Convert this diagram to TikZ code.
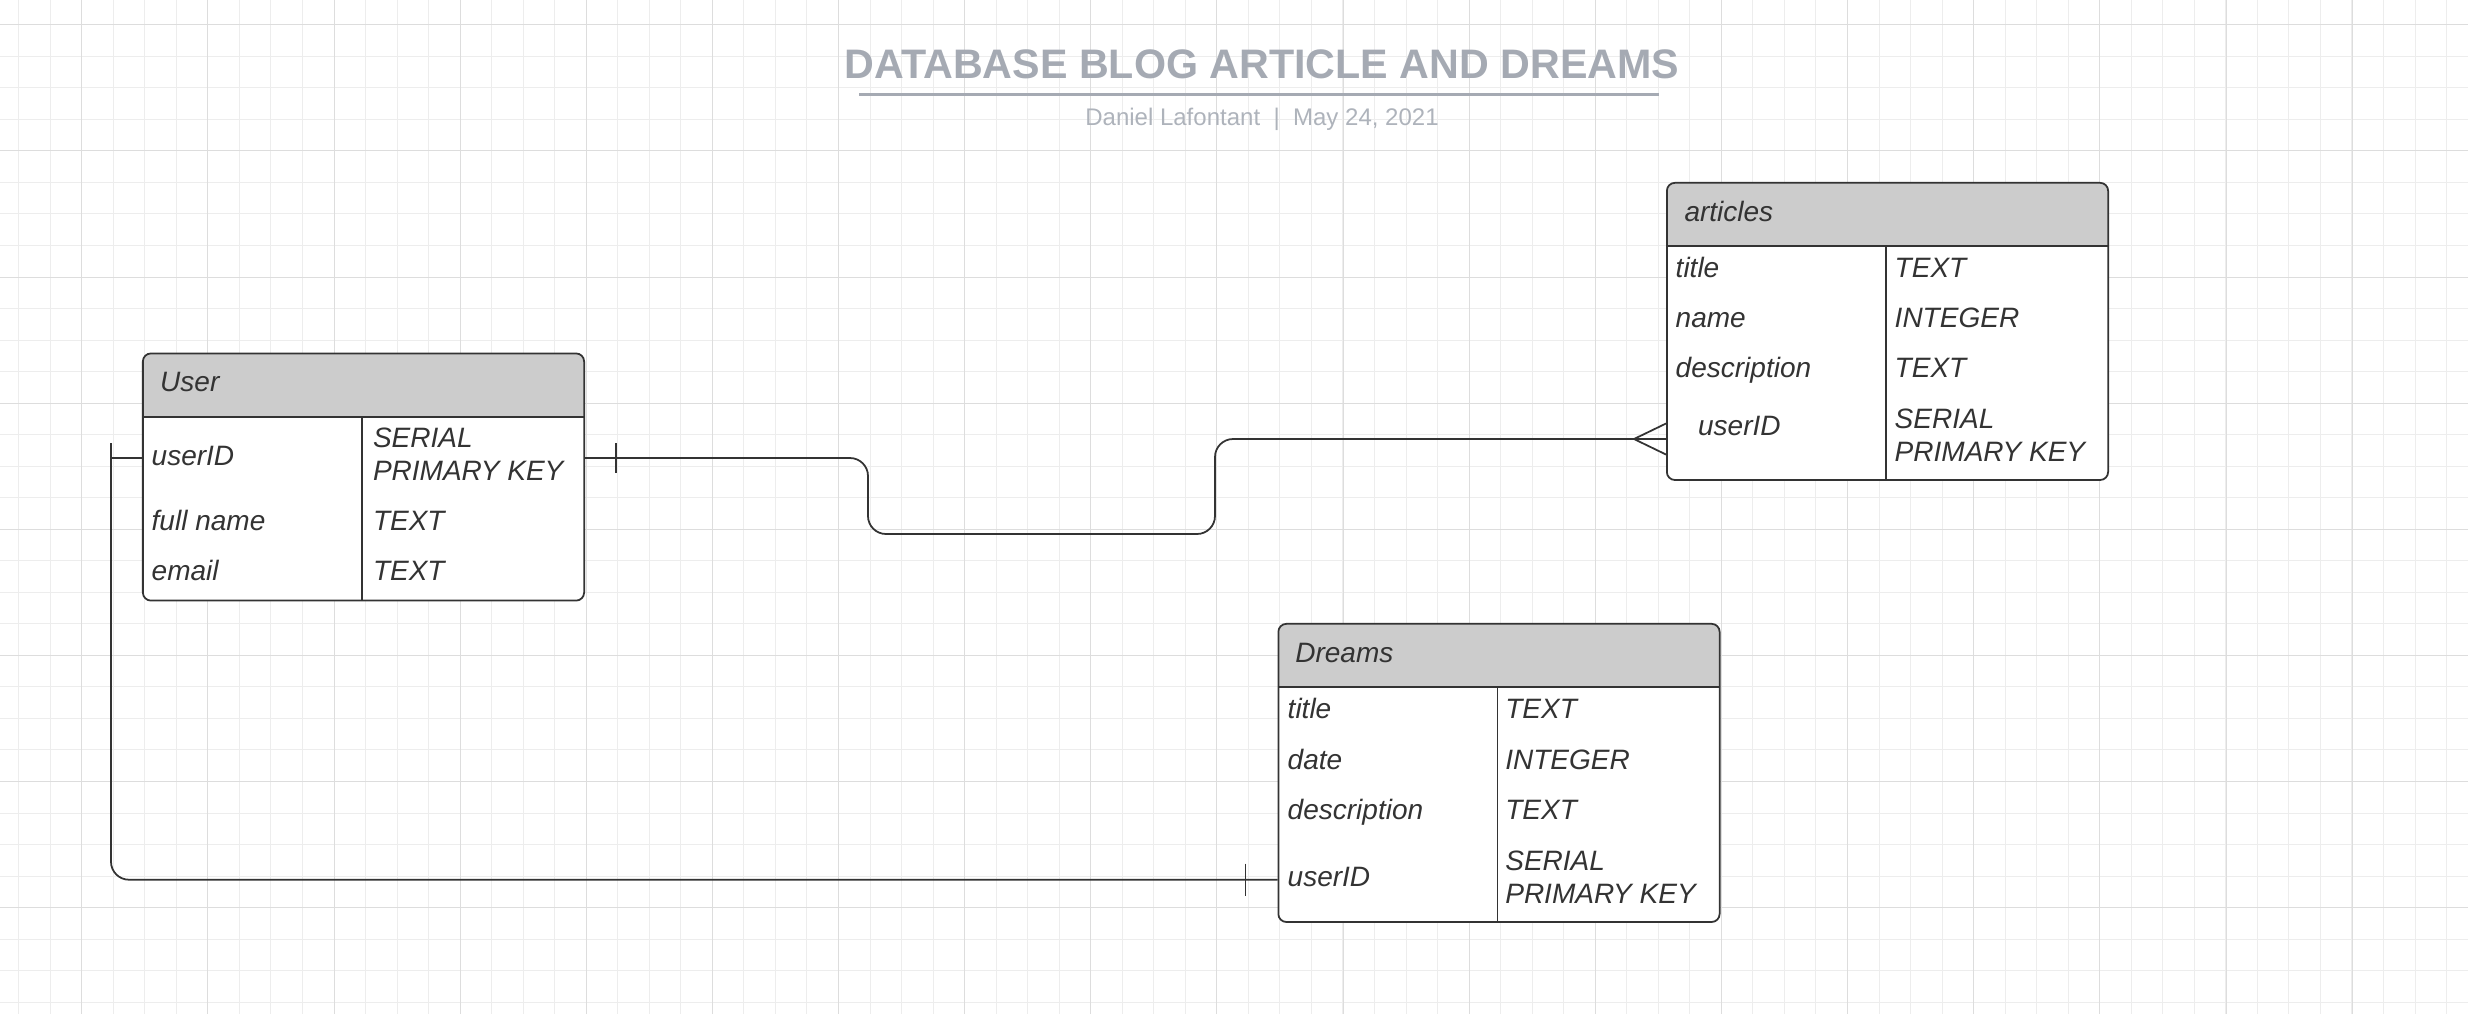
\documentclass[tikz,border=0pt]{standalone}
\usepackage{fontspec}
\setmainfont{Liberation Sans}
\usepackage{xcolor}
\usepackage{tikz}
\usetikzlibrary{calc}
\definecolor{ink}{HTML}{333333}
\definecolor{hdrgray}{HTML}{CCCCCC}
\definecolor{titlegray}{HTML}{A5AAB3}
\definecolor{bylinegray}{HTML}{AEB3BB}
\definecolor{gridminor}{HTML}{EDEDED}
\definecolor{gridmajor}{HTML}{DDDDDD}
\tikzstyle{conn} = [draw=ink, line width=0.5pt]
\newcommand{\cellfont}{\fontsize{0.28cm}{0.33cm}\selectfont\itshape}

\begin{document}
\begin{tikzpicture}[x=0.01cm, y=-0.01cm,
				tbl/.style= {draw=ink, line width=0.5pt, fill=white, rounded corners=0.08cm,
					minimum width=4.41cm, inner sep=0,
					path picture={
						\fill [hdrgray, sharp corners] (path picture bounding box.north west) rectangle ([yshift=-0.633cm]path picture bounding box.north east);
						\draw [ink, line width=0.5pt, sharp corners] ([yshift=-0.633cm]path picture bounding box.north west) -- ([yshift=-0.633cm]path picture bounding box.north east);
						\draw [ink, line width=0.5pt, sharp corners] ([xshift=2.19cm, yshift=-0.633cm]path picture bounding box.north west) -- ([xshift=2.19cm]path picture bounding box.south west);
					}},
				cell/.style= {anchor=base west, inner sep=0, text=ink, font=\cellfont, align=left},
				gridline/.style= {line width=0.01cm}
			]
			\useasboundingbox (0,0) rectangle (2468,1014);
			
			% grid
			\foreach \i in {0,...,78} {
				\pgfmathsetmacro\gx{round(18.24+31.53*\i)+0.5}
				\draw [gridline, gridminor] (\gx,0) -- (\gx,1014);
			}
			\foreach \i in {0,...,31} {
				\pgfmathsetmacro\gy{round(24.3+31.53*\i)+0.5}
				\draw [gridline, gridminor] (0,\gy) -- (2468,\gy);
			}
			\foreach \i in {0,...,18} {
				\pgfmathsetmacro\gx{round(81.3+126.13*\i)+0.5}
				\draw [gridline, gridmajor] (\gx,0) -- (\gx,1014);
			}
			\foreach \i in {0,...,7} {
				\pgfmathsetmacro\gy{round(24.3+126.13*\i)+0.5}
				\draw [gridline, gridmajor] (0,\gy) -- (2468,\gy);
			}
			
			% heading
			\node (title) [font=\fontsize{0.412cm}{0.48cm}\selectfont\bfseries, text=titlegray] at (1262,64.5) {DATABASE BLOG ARTICLE AND DREAMS};
			\draw [titlegray, line width=1pt] (859,94.4) -- (1659,94.4);
			\node (byline) [font=\fontsize{0.24cm}{0.29cm}\selectfont, text=bylinegray] at (1262,119.5) {Daniel Lafontant~~|~~May 24, 2021};
			
			% tables
			\node (user) [tbl, minimum height=2.47cm] at (363.5,477) {};
			\node (art) [tbl, minimum height=2.97cm] at (1887.5,331.4) {};
			\node (dreams) [tbl, minimum height=2.98cm] at (1499,772.9) {};
			
			\node (u-head) [cell] at (159.5,391.7) {User};
			\node (u-id) [cell] at (151,465) {userID};
			\node (u-key) [cell] at (372.3,480.3) {SERIAL\\PRIMARY KEY};
			\foreach \n/\f/\t/\y in {full/full name/TEXT/530.7, mail/email/TEXT/580.7}{
				\node (u-\n) [cell] at (151,\y) {\f};
				\node (u-\n-t) [cell] at (372.3,\y) {\t};
			}
			
			\node (a-head) [cell] at (1683.8,221.7) {articles};
			\foreach \n/\f/\t/\y in {title/title/TEXT/277.3, name/name/INTEGER/327.3, desc/description/TEXT/377.3}{
				\node (a-\n) [cell] at (1675,\y) {\f};
				\node (a-\n-t) [cell] at (1894,\y) {\t};
			}
			\node (a-id) [cell] at (1697.4,435) {userID};
			\node (a-key) [cell] at (1894,461.3) {SERIAL\\PRIMARY KEY};
			
			\node (d-head) [cell] at (1294.6,662.7) {Dreams};
			\foreach \n/\f/\t/\y in {title/title/TEXT/718.3, date/date/INTEGER/769, desc/description/TEXT/819}{
				\node (d-\n) [cell] at (1287,\y) {\f};
				\node (d-\n-t) [cell] at (1504.6,\y) {\t};
			}
			\node (d-id) [cell] at (1287,886.7) {userID};
			\node (d-key) [cell] at (1504.6,903) {SERIAL\\PRIMARY KEY};
			
			% relations
			\coordinate (u-port) at ($(u-key.west)+(0,4)$);
			\coordinate (a-port) at ($(a-key.west)+(0,4)$);
			\coordinate (d-port) at ($(d-key.west)+(0,3)$);
			
			\draw [conn, rounded corners=0.18cm] (user.east |- u-port) -| (868,534) -- (1215,534) |- (art.west |- a-port);
			\draw [conn] ($(user.east |- u-port)+(31,-15)$) -- ++(0,30);
			\draw [conn] ($(art.west |- a-port)+(0,-15.5)$) -- ++(-32,15.5) -- ++(32,15.5);
			
			\draw [conn] (user.west |- u-port) -- ++(-31,0) coordinate (ubend);
			\draw [conn, rounded corners=0.18cm] (ubend) |- (dreams.west |- d-port);
			\draw [conn] ($(ubend)+(0,-15)$) -- ++(0,30);
			\draw [conn] ($(dreams.west |- d-port)+(-32,-16)$) -- ++(0,32);
		\end{tikzpicture}
\end{document}
